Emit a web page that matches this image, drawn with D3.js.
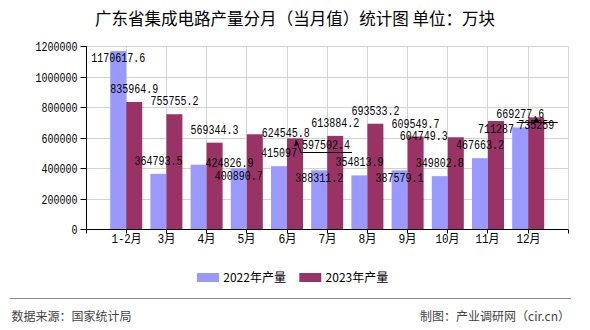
<!DOCTYPE html>
<html>
<head>
<meta charset="utf-8">
<script src="https://cdn.jsdelivr.net/npm/d3@7"></script>
<style>
  html, body { margin: 0; padding: 0; background: #fff; }
  svg { display: block; }
</style>
</head>
<body>
<svg id="chart" width="590" height="330"></svg>
<script>
// ---------- data ----------
const categories = ["1-2月", "3月", "4月", "5月", "6月", "7月", "8月", "9月", "10月", "11月", "12月"];
const seriesNames = ["2022年产量", "2023年产量"];
const values2022 = [1170617.6, 364793.5, 424826.9, 400890.7, 415097, 388311.2, 354813.9, 387579.1, 349802.8, 467663.2, 669277.6];
const values2023 = [835964.9, 755755.2, 569344.3, 624545.8, 597502.4, 613884.2, 693533.2, 609549.7, 604749.3, 711287, 735259];
const yTicks = [0, 200000, 400000, 600000, 800000, 1000000, 1200000];
// label placement modes (as laid out in the original)
const labelPlace2022 = ["in", "above", "right", "in", "above", "in", "above", "in", "above", "above", "above"];
const labelPlace2023 = ["above", "above", "above", "right", "rightlow", "above", "above", "above", "left", "in", "in"];
const leader2023 = ["", "", "", "", "under", "", "", "", "", "", "through"];

const colors = ["#9999FF", "#993366"];
const numFont = "'Liberation Mono', 'Noto Sans CJK SC', monospace";
const cjkFont = "'Noto Sans CJK SC', 'Noto Sans', sans-serif";

const svg = d3.select("#chart");

// ---------- scales ----------
const pL = 86, pR = 568.4, pT = 46.5, pB = 229.5;
const slots = ["__start", ...categories, "__end"];
const x = d3.scalePoint().domain(slots).range([pL, pR]).padding(0);
const y = d3.scaleLinear().domain([0, 1200000]).range([pB, pT]);
const barW = 16;
const crisp = v => Math.round(v - 0.5) + 0.5;

// text width helper: half-width chars 6px, CJK full-width 12px
const textW = s => Array.from(s).reduce((a, c) => a + (c.charCodeAt(0) > 255 ? 12 : 6), 0);

// ---------- title ----------
svg.append("text")
  .attr("x", 295).attr("y", 24.5)
  .attr("text-anchor", "middle")
  .attr("font-family", cjkFont)
  .attr("font-size", 16.5)
  .attr("fill", "#000")
  .attr("textLength", 400).attr("lengthAdjust", "spacingAndGlyphs")
  .text("广东省集成电路产量分月（当月值）统计图 单位：万块");

// ---------- grid ----------
const grid = svg.append("g").attr("stroke", "#d3d3d3").attr("stroke-width", 1);
grid.selectAll("line.h").data(yTicks.filter(d => d > 0)).join("line")
  .attr("x1", pL).attr("x2", crisp(pR))
  .attr("y1", d => crisp(y(d))).attr("y2", d => crisp(y(d)));
grid.selectAll("line.v").data(slots.slice(1)).join("line")
  .attr("x1", d => crisp(x(d))).attr("x2", d => crisp(x(d)))
  .attr("y1", pT).attr("y2", pB);

// ---------- bars ----------
const barsG = svg.append("g");
[values2022, values2023].forEach((vals, si) => {
  barsG.selectAll(null).data(vals).join("rect")
    .attr("x", (d, i) => x(categories[i]) - barW + si * barW)
    .attr("width", barW)
    .attr("y", d => y(d))
    .attr("height", d => y(0) - y(d))
    .attr("fill", colors[si]);
});

// ---------- axes ----------
const xAxis = d3.axisBottom(x).tickSize(4).tickPadding(4)
  .tickFormat(d => d.startsWith("__") ? "" : d);
const gx = svg.append("g").attr("transform", `translate(0,${crisp(pB)})`).call(xAxis);
gx.select(".domain").attr("stroke", "#000").attr("d", `M${pL},0H${pR}`);
gx.selectAll(".tick").attr("transform", d => `translate(${crisp(x(d))},0)`);
gx.selectAll(".tick line").attr("stroke", "#000");
gx.selectAll(".tick text")
  .attr("font-family", numFont).attr("font-size", 12).attr("fill", "#000")
  .attr("y", 13).attr("dy", 0)
  .each(function(d) {
    if (!d.startsWith("__")) d3.select(this).attr("textLength", textW(d)).attr("lengthAdjust", "spacingAndGlyphs");
  });

const yAxis = d3.axisLeft(y).tickValues(yTicks).tickSize(6).tickPadding(3).tickFormat(d => String(d));
const gy = svg.append("g").attr("transform", `translate(${crisp(pL)},0)`).call(yAxis);
gy.select(".domain").attr("stroke", "#000").attr("d", `M0,${pT}V${crisp(pB)}`);
gy.selectAll(".tick").attr("transform", d => `translate(0,${crisp(y(d))})`);
gy.selectAll(".tick line").attr("stroke", "#000");
gy.selectAll(".tick text")
  .attr("font-family", numFont).attr("font-size", 12).attr("fill", "#000")
  .attr("dy", "0.35em")
  .each(function(d) { d3.select(this).attr("textLength", textW(String(d))).attr("lengthAdjust", "spacingAndGlyphs"); });

// ---------- value labels ----------
const placeOffset = {
  above: { dx: 0, dy: -13 },
  in: { dx: 0, dy: 7.5 },
  right: { dx: 31, dy: -1.5 },
  rightlow: { dx: 31, dy: 6.5 },
  left: { dx: -32, dy: -1.5 }
};
const labelsG = svg.append("g");
[[values2022, labelPlace2022], [values2023, labelPlace2023]].forEach(([vals, places], si) => {
  vals.forEach((v, i) => {
    const cx = x(categories[i]) - barW / 2 + si * barW;
    const off = placeOffset[places[i]];
    const s = String(v);
    const w = textW(s);
    const tx = cx + off.dx;
    const cy = y(v) + off.dy;
    labelsG.append("text")
      .attr("x", tx).attr("y", cy + 4)
      .attr("text-anchor", "middle")
      .attr("font-family", numFont).attr("font-size", 12).attr("fill", "#000")
      .attr("textLength", w).attr("lengthAdjust", "spacingAndGlyphs")
      .text(s);
    if (si === 1 && leader2023[i]) {
      const l = tx - w / 2, r = tx + w / 2;
      const topY = y(v);
      if (leader2023[i] === "under") {
        const uy = crisp(cy + 7.5);
        labelsG.append("path")
          .attr("d", `M${l - 2},${uy}H${r + 2}M${l - 1},${uy}L${cx + 1},${topY + 2}`)
          .attr("stroke", "#000").attr("fill", "none").attr("stroke-width", 1);
        labelsG.append("path")
          .attr("d", `M${cx + 1},${topY + 1.5}L${cx - 1},${topY + 8}L${cx + 4},${topY + 6}Z`)
          .attr("fill", "#000");
      } else {
        const ly = crisp(topY + 4.7);
        labelsG.append("path")
          .attr("d", `M${l - 1.5},${ly}H${r + 3.5}`)
          .attr("stroke", "#000").attr("fill", "none").attr("stroke-width", 1);
        labelsG.append("path")
          .attr("d", `M${cx},${topY}L${cx - 3},${topY + 5}L${cx + 3},${topY + 5}Z`)
          .attr("fill", "#000");
      }
    }
  });
});

// ---------- legend ----------
const legend = svg.append("g");
seriesNames.forEach((name, i) => {
  const lx = 197 + i * 102.3;
  legend.append("rect").attr("x", lx).attr("y", 273).attr("width", 22).attr("height", 9).attr("fill", colors[i]);
  legend.append("text").attr("x", lx + 26.3).attr("y", 281.5)
    .attr("font-family", cjkFont).attr("font-size", 12).attr("fill", "#000")
    .text(name);
});

// ---------- footer ----------
svg.append("line").attr("x1", 10).attr("x2", 571).attr("y1", 298.5).attr("y2", 298.5)
  .attr("stroke", "#888").attr("stroke-width", 1);
svg.append("text").attr("x", 11.5).attr("y", 320.5)
  .attr("font-family", cjkFont).attr("font-size", 12).attr("fill", "#444")
  .text("数据来源：国家统计局");
svg.append("text").attr("x", 570).attr("y", 320.5).attr("text-anchor", "end")
  .attr("font-family", cjkFont).attr("font-size", 12).attr("fill", "#444")
  .text("制图：产业调研网（cir.cn）");
</script>
</body>
</html>
